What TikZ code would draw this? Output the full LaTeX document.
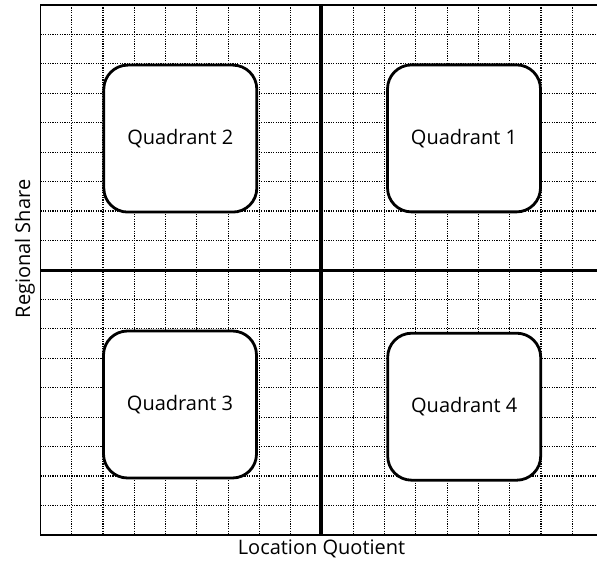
\documentclass[tikz,border=0pt]{standalone}
\usepackage{fontspec}
\setmainfont{Open Sans}
\begin{document}
\begin{tikzpicture}[x=1pt,y=-1pt,
    gridline/.style={line width=1.2pt,dash pattern=on 1.2pt off 1.2pt},
    quadbox/.style={draw,fill=white,line width=2.8pt,rounded corners=24pt,
      minimum width=153pt,minimum height=147pt,inner sep=0pt,
      font=\fontsize{20}{24}\selectfont},
    axislabel/.style={font=\fontsize{20}{24}\selectfont,inner sep=0pt}]
      \clip (0,0) rectangle (597,561);
      \useasboundingbox (0,0) rectangle (597,561);
      % dotted grid
      \foreach \k in {1,...,17} {
        \draw[gridline] (40.4+\k*31.29,5) -- (40.4+\k*31.29,535);
        \draw[gridline] (40.4,5+\k*29.44) -- (603.6,5+\k*29.44);
      }
      \draw[line width=1.6pt] (40.4,5) rectangle (603.6,535);
      % axes
      \draw[line width=3.2pt] (321,5) -- (321,535);
      \draw[line width=3.2pt] (40.4,270.7) -- (603.6,270.7);
      % quadrants
      \node[quadbox] (q2) at (180.3,138.6) {Quadrant 2};
      \node[quadbox] (q1) at (464,138.4) {Quadrant 1};
      \node[quadbox] (q3) at (180,404.5) {Quadrant 3};
      \node[quadbox] (q4) at (464.2,406.7) {Quadrant 4};
      \node[axislabel] (xlabel) at (321.5,549) {Location Quotient};
      \node[axislabel,rotate=90] (ylabel) at (25,249) {Regional Share};
    \end{tikzpicture}
\end{document}
